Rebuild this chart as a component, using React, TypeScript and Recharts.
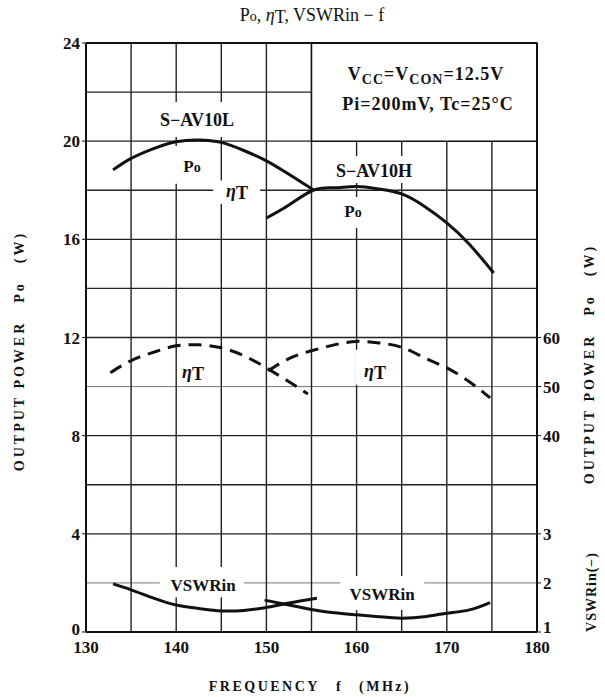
import { Line, LineChart, ReferenceArea, ReferenceLine, XAxis, YAxis } from "recharts";

// axes
const freqTicks = [130, 140, 150, 160, 170, 180];
const powerTicks = [0, 4, 8, 12, 16, 20, 24];
const etaTicks = [40, 50, 60];
const vswrTicks = [1, 2, 3];
const gridFreqs = [135, 140, 145, 150, 155, 160, 165, 170, 175];
const gridPowers = [2, 4, 6, 8, 10, 12, 14, 16, 18, 20, 22];
const faintPowers = [2, 10];

const freqDomain = [130, 180];
const powerDomain = [0, 24];
const etaDomain = [0, 120];
const vswrDomain = [1, 13];

// S-AV10L
const freqPoL = [133, 135, 137.5, 140, 142.5, 145, 147.5, 150, 152.5, 155.2];
const poL = [18.83, 19.3, 19.7, 19.98, 20.05, 19.95, 19.62, 19.2, 18.65, 18.02];
const freqEtaL = [132.7, 135, 137.5, 140, 142.5, 145, 147.5, 150, 152.5, 154.6];
const etaL = [52.8, 55.3, 57.0, 58.3, 58.5, 57.9, 56.3, 53.8, 51.0, 48.5];
const freqVswrL = [133, 135, 137.5, 140, 142.5, 145, 147.5, 150, 152.5, 155.6];
const vswrL = [1.98, 1.86, 1.69, 1.55, 1.48, 1.43, 1.44, 1.5, 1.59, 1.69];

// S-AV10H
const freqPoH = [150, 152.5, 155.2, 157.5, 160, 162.5, 165, 167.5, 170, 172.5, 175.2];
const poH = [16.87, 17.4, 18.0, 18.1, 18.15, 18.05, 17.85, 17.35, 16.67, 15.8, 14.63];
const freqEtaH = [150.2, 152.5, 155, 157.5, 160, 162.5, 165, 167.5, 170, 172.5, 174.8];
const etaH = [53.2, 55.7, 57.3, 58.5, 59.2, 58.9, 58.0, 55.9, 53.8, 51.0, 47.7];
const freqVswrH = [149.8, 152.5, 155, 157.5, 160, 162.5, 165, 167.5, 170, 172.5, 174.8];
const vswrH = [1.65, 1.55, 1.46, 1.39, 1.35, 1.31, 1.28, 1.31, 1.38, 1.45, 1.6];

const FONT = '"Liberation Serif", "DejaVu Serif", "Times New Roman", serif';
const INK = "#111";

const rows = (fs: number[], vs: number[]) => fs.map((f, i) => ({ f, v: vs[i] }));

// where a VSWR value sits on the efficiency scale (both share the right edge)
const vswrOnEta = (v: number) =>
  Math.round((etaDomain[0] + ((v - vswrDomain[0]) / (vswrDomain[1] - vswrDomain[0])) * (etaDomain[1] - etaDomain[0])) * 1000) / 1000;

const rightLabels = new Map<number, string>();
vswrTicks.forEach((v) => rightLabels.set(vswrOnEta(v), String(v)));
etaTicks.forEach((v) => rightLabels.set(v, String(v)));
const rightTicks = [...rightLabels.keys()].sort((a, b) => a - b);

const tickStyle = { fontFamily: FONT, fontSize: 17, fontWeight: 700, fill: INK };

function LeftTick(props: any) {
  const { x, y, payload } = props;
  return (
    <text x={x} y={payload.value === 0 ? y + 3 : y + 6} textAnchor="end" style={tickStyle}>
      {payload.value}
    </text>
  );
}

function RightTick(props: any) {
  const { x, y, payload } = props;
  return (
    <text x={x} y={payload.value === 0 ? y + 1 : y + 6} style={tickStyle}>
      {rightLabels.get(payload.value)}
    </text>
  );
}

const whiteAreas = [
  { x1: 137.3, x2: 147.3, y1: 20.17, y2: 21.6 },
  { x1: 139.5, x2: 143.75, y1: 18.26, y2: 19.8 },
  { x1: 144.1, x2: 149.3, y1: 17.44, y2: 18.4 },
  { x1: 157.05, x2: 167.0, y1: 18.3, y2: 19.4 },
  { x1: 157.9, x2: 161.5, y1: 16.46, y2: 17.73 },
  { x1: 140.2, x2: 143.75, y1: 10.05, y2: 11.4 },
  { x1: 159.9, x2: 164.4, y1: 10.07, y2: 11.5 },
  { x1: 138.2, x2: 147.5, y1: 1.42, y2: 2.65 },
  { x1: 158.2, x2: 167.5, y1: 0.9, y2: 2.28 },
];

function Eta({ x, y, size = 18 }: { x: number; y: number; size?: number }) {
  return (
    <text x={x} y={y} textAnchor="middle" fontSize={size} fontWeight={700}>
      <tspan fontStyle="italic">η</tspan>
      <tspan dy={2}>T</tspan>
    </text>
  );
}

export default function App() {
  return (
    <div style={{ position: "absolute", left: 0, top: 0, width: 605, height: 697, background: "#fff" }}>
      <style>{"body{margin:0}"}</style>
      <LineChart width={605} height={697} margin={{ top: 43, right: 28, bottom: 35, left: 46 }}>
        {gridPowers.map((p) => (
          <ReferenceLine
            key={"h" + p}
            yAxisId="po"
            y={p}
            stroke={faintPowers.includes(p) ? "#777" : "#222"}
            strokeWidth={faintPowers.includes(p) ? 1 : 1.4}
            zIndex={-100}
          />
        ))}
        {gridFreqs.map((f) => (
          <ReferenceLine key={"v" + f} yAxisId="po" x={f} stroke="#222" strokeWidth={1.4} zIndex={-100} />
        ))}
        {whiteAreas.map((a, i) => (
          <ReferenceArea key={"w" + i} yAxisId="po" {...a} fill="#fff" fillOpacity={1} stroke="none" zIndex={50} />
        ))}
        <ReferenceArea
          yAxisId="po"
          x1={155}
          x2={180}
          y1={20}
          y2={24}
          fill="#fff"
          fillOpacity={1}
          stroke={INK}
          strokeWidth={1.5}
          zIndex={50}
        />
        <ReferenceLine yAxisId="po" y={24} stroke={INK} strokeWidth={2} zIndex={60} />
        <ReferenceLine yAxisId="po" x={180} stroke={INK} strokeWidth={2} zIndex={60} />

        <XAxis
          dataKey="f"
          type="number"
          domain={freqDomain}
          ticks={freqTicks}
          height={30}
          tickLine={false}
          tickSize={4}
          tickMargin={5}
          axisLine={{ stroke: INK, strokeWidth: 2 }}
          tick={tickStyle}
        />
        <YAxis
          yAxisId="po"
          domain={powerDomain}
          ticks={powerTicks}
          width={40}
          tickSize={4}
          tickMargin={2}
          tickLine={{ stroke: INK }}
          axisLine={{ stroke: INK, strokeWidth: 2 }}
          tick={(p: any) => <LeftTick {...p} />}
        />
        <YAxis
          yAxisId="eta"
          orientation="right"
          domain={etaDomain}
          ticks={rightTicks}
          width={40}
          tickSize={4}
          tickMargin={2}
          tickLine={{ stroke: INK }}
          axisLine={{ stroke: INK, strokeWidth: 2 }}
          tick={(p: any) => <RightTick {...p} />}
        />
        <YAxis yAxisId="vswr" domain={vswrDomain} width={0} hide />

        <Line yAxisId="po" data={rows(freqPoL, poL)} dataKey="v" type="natural" stroke={INK} strokeWidth={3} dot={false} isAnimationActive={false} />
        <Line yAxisId="po" data={rows(freqPoH, poH)} dataKey="v" type="natural" stroke={INK} strokeWidth={3} dot={false} isAnimationActive={false} />
        <Line yAxisId="eta" data={rows(freqEtaL, etaL)} dataKey="v" type="natural" stroke={INK} strokeWidth={3} strokeDasharray="13 8" dot={false} isAnimationActive={false} />
        <Line yAxisId="eta" data={rows(freqEtaH, etaH)} dataKey="v" type="natural" stroke={INK} strokeWidth={3} strokeDasharray="13 8" dot={false} isAnimationActive={false} />
        <Line yAxisId="vswr" data={rows(freqVswrL, vswrL)} dataKey="v" type="natural" stroke={INK} strokeWidth={3} dot={false} isAnimationActive={false} />
        <Line yAxisId="vswr" data={rows(freqVswrH, vswrH)} dataKey="v" type="natural" stroke={INK} strokeWidth={3} dot={false} isAnimationActive={false} />
      </LineChart>

      <svg
        width={605}
        height={697}
        style={{ position: "absolute", left: 0, top: 0, pointerEvents: "none" }}
        fontFamily={FONT}
        fill={INK}
      >
        <text x={312} y={21} textAnchor="middle" fontSize={18}>
          P<tspan fontSize={14}>o</tspan>, <tspan fontStyle="italic">η</tspan>
          <tspan dy={2}>T</tspan>
          <tspan dy={-2}>, VSWRin − f</tspan>
        </text>

        <text x={426} y={80} textAnchor="middle" fontSize={18} fontWeight={700} letterSpacing={1}>
          V<tspan fontSize={14} dy={4}>CC</tspan>
          <tspan dy={-4}>=V</tspan>
          <tspan fontSize={14} dy={4}>CON</tspan>
          <tspan dy={-4}>=12.5V</tspan>
        </text>
        <text x={428} y={110} textAnchor="middle" fontSize={18} fontWeight={700} letterSpacing={1}>
          Pi=200mV, Tc=25°C
        </text>

        <text x={197} y={126} textAnchor="middle" fontSize={18} fontWeight={700}>S−AV10L</text>
        <text x={192} y={172} textAnchor="middle" fontSize={17} fontWeight={700}>
          P<tspan fontSize={14}>o</tspan>
        </text>
        <Eta x={237} y={197} />
        <text x={374} y={177} textAnchor="middle" fontSize={18} fontWeight={700}>S−AV10H</text>
        <text x={353} y={217} textAnchor="middle" fontSize={17} fontWeight={700}>
          P<tspan fontSize={14}>o</tspan>
        </text>
        <Eta x={193} y={378} />
        <Eta x={375} y={377} />
        <text x={203} y={591} textAnchor="middle" fontSize={17} fontWeight={700}>VSWRin</text>
        <text x={382} y={600} textAnchor="middle" fontSize={17} fontWeight={700}>VSWRin</text>

        <text x={310} y={691} textAnchor="middle" fontSize={14} fontWeight={700} letterSpacing={2.5}>
          FREQUENCY<tspan dx={16}>f</tspan>
          <tspan dx={16}>(MHz)</tspan>
        </text>
        <text
          transform="translate(24,351) rotate(-90)"
          textAnchor="middle"
          fontSize={14}
          fontWeight={700}
          letterSpacing={3}
        >
          OUTPUT POWER<tspan dx={18}>Po</tspan>
          <tspan dx={18}>(W)</tspan>
        </text>
        <text
          transform="translate(594,364) rotate(-90)"
          textAnchor="middle"
          fontSize={14}
          fontWeight={700}
          letterSpacing={3}
        >
          OUTPUT POWER<tspan dx={18}>Po</tspan>
          <tspan dx={18}>(W)</tspan>
        </text>
        <text
          transform="translate(596,592) rotate(-90)"
          textAnchor="middle"
          fontSize={14}
          fontWeight={700}
          letterSpacing={1}
        >
          VSWRin(−)
        </text>
      </svg>
    </div>
  );
}
